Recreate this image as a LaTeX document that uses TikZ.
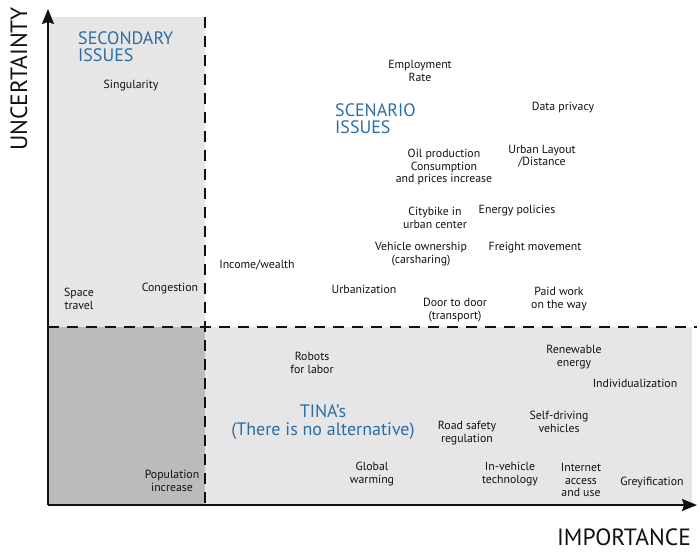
\documentclass[tikz,border=0pt]{standalone}
\usepackage{fontspec}
\setmainfont{PT Sans}
\usepackage{xcolor}
\usepackage{tikz}
\usetikzlibrary{arrows.meta,positioning,backgrounds}
\definecolor{lightzone}{HTML}{E6E6E6}
\definecolor{darkzone}{HTML}{BBBBBB}
\definecolor{heading}{HTML}{2B6DA5}
\definecolor{ink}{HTML}{111111}
\tikzset{
  issue/.style={align=center, inner sep=1pt, text=ink, font=\fontsize{11.8}{12.4}\selectfont},
  zonetitle/.style={align=left, inner sep=1pt, text=heading, font=\fontsize{18}{17}\selectfont},
  axislbl/.style={inner sep=0pt, text=ink, font=\fontsize{23.5}{25}\selectfont},
  axisline/.style={-{Stealth[length=15pt,width=12pt,inset=2pt]}, draw=ink, line width=1.8pt},
  divider/.style={draw=ink, line width=1.6pt, dash pattern=on 11pt off 8pt}
}
\begin{document}
\begin{tikzpicture}[x=1pt,y=-1pt]
\useasboundingbox (0,0) rectangle (700,551);
% corner points of the matrix
\coordinate (origin) at (48,505);
\coordinate (ytop) at (48,9);
\coordinate (xend) at (697,505);
\coordinate (splitx top) at (205,17);
\coordinate (splitx bot) at (205,505);
\coordinate (splity left) at (48,327);
\coordinate (splity right) at (697,327);
% shaded zones
\fill[lightzone] (48,17) rectangle (205,327);
\fill[darkzone] (48,327) rectangle (205,505);
\fill[lightzone] (205,327) rectangle (692,505);
% dividers
\draw[divider] (splitx top) -- (splitx bot);
\draw[divider] (splity left) -- (splity right);
% axes
\draw[axisline] (origin) -- (ytop);
\draw[axisline] (origin) -- (xend);
\node[axislbl, rotate=90] (uncert) at (19,79) {UNCERTAINTY};
\node[axislbl] (import) at (624,537) {IMPORTANCE};

% zone titles
\node[zonetitle, anchor=west] (secondary) at (77,47) {SECONDARY\\ISSUES};
\node[zonetitle, anchor=west] (scenario) at (334,119) {SCENARIO\\ISSUES};
\node[zonetitle, align=center, font=\fontsize{18}{18.5}\selectfont] (tina) at (323,422) {TINA's\\(There is no alternative)};

% secondary issues
\node[issue] (singularity) at (131,86) {Singularity};
\node[issue] (space) at (79,299) {Space\\travel};
\node[issue] (congestion) at (170,289) {Congestion};

% scenario issues
\node[issue] (employment) at (420,71) {Employment\\Rate};
\node[issue] (privacy) at (563,108) {Data privacy};
\node[issue] (layout) at (542,156) {Urban Layout\\/Distance};
\node[issue] (oil) at (444,167) {Oil production\\Consumption\\and prices increase};
\node[issue] (citybike) at (435,218) {Citybike in\\urban center};
\node[issue] (energy) at (517,211) {Energy policies};
\node[issue] (ownership) at (421,254) {Vehicle ownership\\(carsharing)};
\node[issue] (freight) at (535,248) {Freight movement};
\node[issue] (income) at (257,265) {Income/wealth};
\node[issue] (urban) at (364,289) {Urbanization};
\node[issue] (door) at (455,310) {Door to door\\(transport)};
\node[issue] (paidwork) at (559,299) {Paid work\\on the way};

% tina's
\node[issue] (robots) at (312,363) {Robots\\for labor};
\node[issue] (population) at (172,481) {Population\\increase};
\node[issue] (warming) at (372,474) {Global\\warming};
\node[issue] (safety) at (467,433) {Road safety\\regulation};
\node[issue] (renewable) at (574,357) {Renewable\\energy};
\node[issue] (individual) at (635,383) {Individualization};
\node[issue] (selfdrive) at (559,422) {Self-driving\\vehicles};
\node[issue] (invehicle) at (510,474) {In-vehicle\\technology};
\node[issue] (internet) at (581,480) {Internet\\access\\and use};
\node[issue] (grey) at (652,482) {Greyification};
\end{tikzpicture}
\end{document}
